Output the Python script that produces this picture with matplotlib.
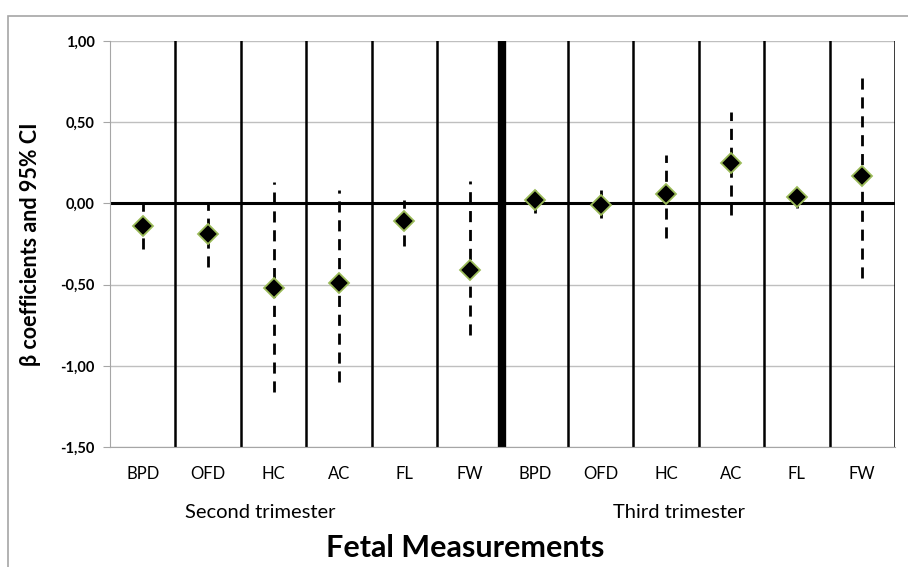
import numpy as np
import matplotlib.pyplot as plt
from matplotlib.patches import Rectangle

#%% Data
measures = ['BPD', 'OFD', 'HC', 'AC', 'FL', 'FW',
            'BPD', 'OFD', 'HC', 'AC', 'FL', 'FW']
groups = ['Second trimester', 'Third trimester']
beta = [-0.14, -0.19, -0.52, -0.49, -0.11, -0.41,
        0.02, -0.01, 0.06, 0.25, 0.04, 0.17]
ci_low = [-0.28, -0.39, -1.16, -1.10, -0.26, -0.81,
          -0.06, -0.09, -0.21, -0.07, -0.03, -0.46]
ci_high = [0.01, 0.01, 0.13, 0.08, 0.02, 0.14,
           0.08, 0.08, 0.30, 0.56, 0.08, 0.79]
yticks = [1.0, 0.5, 0.0, -0.5, -1.0, -1.5]

#%% Figure
plt.rcParams['font.family'] = ['Lato', 'DejaVu Sans']
fig = plt.figure(figsize=(9.08, 5.67), dpi=100)
ax = fig.add_axes([110/908, 1 - 447/567, 785/908, 406/567])

# Outer chart frame
fig.patches.append(Rectangle((8/908, -0.1), 1.2, 1 - 16/567 + 0.1,
                             transform=fig.transFigure, fill=False,
                             edgecolor='#a6a6a6', linewidth=1.2))

x = np.arange(len(measures))
ax.set_xlim(-0.5, len(measures) - 0.5)
ax.set_ylim(-1.5, 1.0)

# Grid and separators
for yv in yticks:
    ax.axhline(yv, color='#bfbfbf', linewidth=1, zorder=0)
ax.axhline(0, color='black', linewidth=2.2, zorder=1)
for k in range(len(measures)):
    lw = 6 if k == 5 else 1.8
    ax.axvline(k + 0.5, color='black', linewidth=lw, zorder=1)

# Confidence intervals and estimates
for xi, lo, hi in zip(x, ci_low, ci_high):
    ax.plot([xi, xi], [lo, hi], color='black', linewidth=2,
            linestyle=(0, (4, 2.8)), zorder=2)
ax.plot(x, beta, linestyle='none', marker='D', markersize=10,
        markerfacecolor='black', markeredgecolor='#9bbb59',
        markeredgewidth=1.3, zorder=3)

# Axes styling
for side in ['top', 'right']:
    ax.spines[side].set_visible(False)
ax.spines['left'].set_color('#a6a6a6')
ax.spines['bottom'].set_color('#a6a6a6')
ax.set_yticks(yticks)
ax.set_yticklabels([f'{v:.2f}'.replace('.', ',') for v in yticks],
                   fontsize=10.5, fontweight='bold')
ax.tick_params(axis='y', length=5, color='#a6a6a6', pad=6)
ax.set_xticks(x)
ax.set_xticklabels(measures, fontsize=12)
ax.tick_params(axis='x', length=0, pad=14)
ax.set_ylabel('β coefficients and 95% CI', fontsize=15.5, fontweight='bold',
              labelpad=14)

# Group labels and axis title
ax.text(260/908, 1 - 513/567, groups[0], transform=fig.transFigure,
        ha='center', va='center', fontsize=14.5)
ax.text(679/908, 1 - 513/567, groups[1], transform=fig.transFigure,
        ha='center', va='center', fontsize=14.5)
fig.text(465/908, 1 - 548/567, 'Fetal Measurements',
         ha='center', va='center', fontsize=22, fontweight='bold')

plt.savefig('out.png', dpi=100)
